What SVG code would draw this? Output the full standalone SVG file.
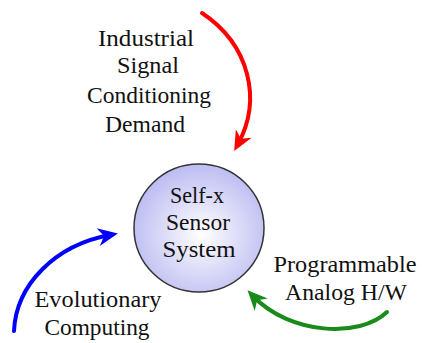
<svg xmlns="http://www.w3.org/2000/svg" width="422" height="343" viewBox="0 0 422 343">
  <style>
    .lbl { font-family: "Liberation Serif", "Times New Roman", Times, "Noto Serif", "DejaVu Serif", serif; font-size: 23px; fill: #111; text-anchor: middle; }
    .arc { fill: none; stroke-width: 4; stroke-linecap: round; }
  </style>
  <defs>
    <radialGradient id="core" cx="0.52" cy="0.55" r="0.55">
      <stop offset="0" stop-color="#ffffff"/>
      <stop offset="1" stop-color="#bcbcf2"/>
    </radialGradient>
    <marker id="headRed" viewBox="0 0 20 20" refX="12" refY="10" markerWidth="20" markerHeight="20" markerUnits="userSpaceOnUse" orient="auto">
      <path d="M0,1 L20,10 L0,19 L6,10 z" fill="#ff0000"/>
    </marker>
    <marker id="headBlue" viewBox="0 0 20 20" refX="12" refY="10" markerWidth="20" markerHeight="20" markerUnits="userSpaceOnUse" orient="auto">
      <path d="M0,1 L20,10 L0,19 L6,10 z" fill="#0000ff"/>
    </marker>
    <marker id="headGreen" viewBox="0 0 20 20" refX="12" refY="10" markerWidth="20" markerHeight="20" markerUnits="userSpaceOnUse" orient="auto">
      <path d="M0,1 L20,10 L0,19 L6,10 z" fill="#1a8a1a"/>
    </marker>
  </defs>

  <rect width="422" height="343" fill="#ffffff"/>

  <g id="connectors">
    <path class="arc" d="M202,13 C250,45 262,100 238,144" stroke="#ff0000" marker-end="url(#headRed)"/>
    <path class="arc" d="M14,331 C16,285 55,245 110,235" stroke="#0000ff" marker-end="url(#headBlue)"/>
    <path class="arc" d="M387,312 C360,338 290,335 253,296" stroke="#1a8a1a" marker-end="url(#headGreen)"/>
  </g>

  <g id="sensor">
    <ellipse cx="199" cy="228" rx="65" ry="64" fill="url(#core)" stroke="#333" stroke-width="1.5"/>
    <text class="lbl" x="197" y="203" textLength="54" lengthAdjust="spacingAndGlyphs">Self-x</text>
    <text class="lbl" x="198" y="230" textLength="64" lengthAdjust="spacingAndGlyphs">Sensor</text>
    <text class="lbl" x="199" y="257" textLength="73" lengthAdjust="spacingAndGlyphs">System</text>
  </g>

  <g id="demand">
    <text class="lbl" x="146" y="46" textLength="96" lengthAdjust="spacingAndGlyphs">Industrial</text>
    <text class="lbl" x="148" y="73" textLength="62" lengthAdjust="spacingAndGlyphs">Signal</text>
    <text class="lbl" x="149" y="103" textLength="124" lengthAdjust="spacingAndGlyphs">Conditioning</text>
    <text class="lbl" x="145" y="132" textLength="80" lengthAdjust="spacingAndGlyphs">Demand</text>
  </g>

  <g id="hardware">
    <text class="lbl" x="345" y="272" textLength="143" lengthAdjust="spacingAndGlyphs">Programmable</text>
    <text class="lbl" x="346" y="300" textLength="122" lengthAdjust="spacingAndGlyphs">Analog H/W</text>
  </g>

  <g id="evolution">
    <text class="lbl" x="98" y="307" textLength="127" lengthAdjust="spacingAndGlyphs">Evolutionary</text>
    <text class="lbl" x="97" y="335" textLength="105" lengthAdjust="spacingAndGlyphs">Computing</text>
  </g>
</svg>
